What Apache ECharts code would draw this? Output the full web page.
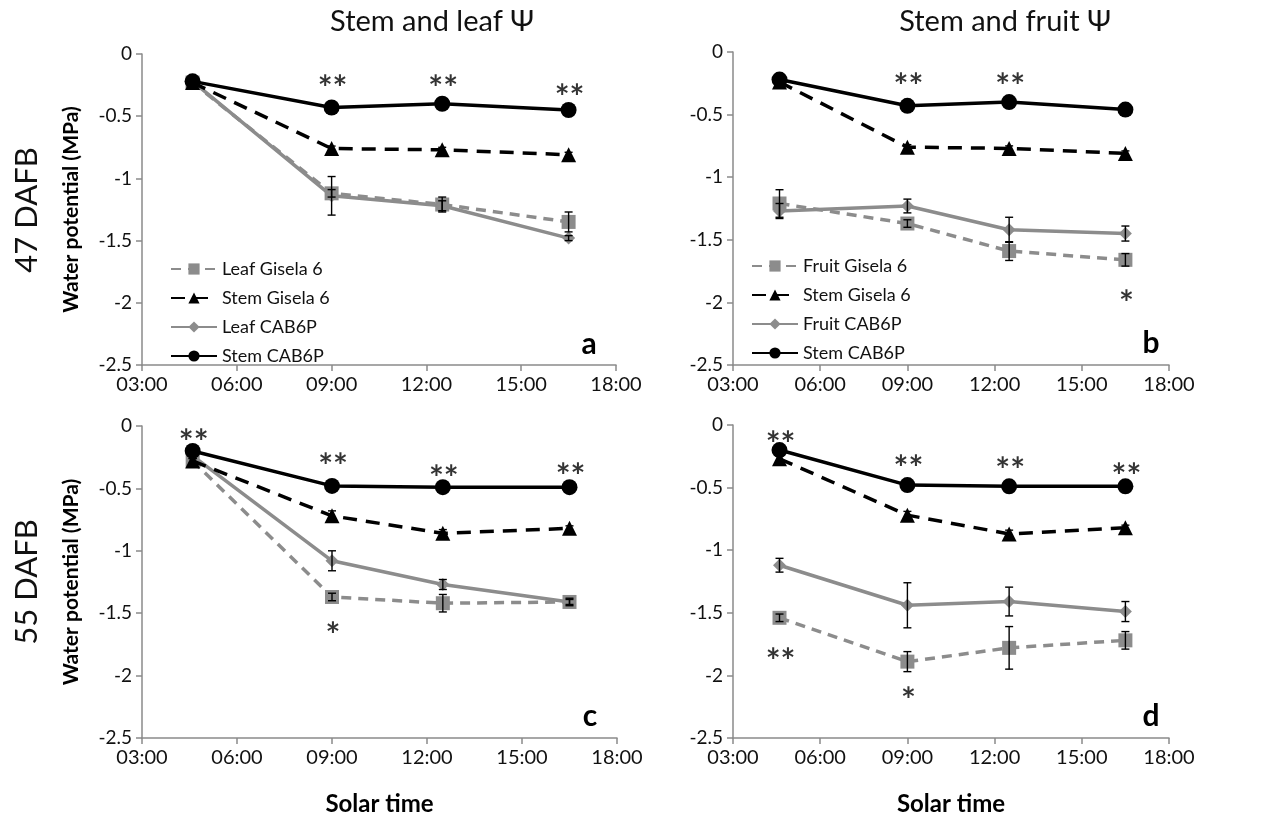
<!DOCTYPE html>
<html>
<head>
<meta charset="utf-8">
<script src="https://cdn.jsdelivr.net/npm/echarts@6/dist/echarts.min.js"></script>
<style>
html,body{margin:0;padding:0;background:#fff;}
#chart{width:1271px;height:817px;}
</style>
</head>
<body>
<div id="chart"></div>
<script>
// ---- data ----
const times = [4.6, 9, 12.5, 16.5];          // solar time (h)
const xTickHours = [3, 6, 9, 12, 15, 18];

// panel a: 47 DAFB, stem & leaf
const aLeafGis = [-0.23, -1.12, -1.21, -1.35];
const aLeafGisErr = [0.02, 0.03, 0.06, 0.08];
const aStemGis = [-0.23, -0.76, -0.77, -0.81];
const aStemGisErr = [0.01, 0.02, 0.02, 0.02];
const aLeafCAB = [-0.22, -1.14, -1.22, -1.48];
const aLeafCABErr = [0.02, 0.155, 0.04, 0.02];
const aStemCAB = [-0.22, -0.43, -0.40, -0.45];
const aStemCABErr = [0.01, 0.01, 0.01, 0.01];

// panel b: 47 DAFB, stem & fruit
const bFruitGis = [-1.21, -1.37, -1.59, -1.66];
const bFruitGisErr = [0.11, 0.03, 0.075, 0.05];
const bStemGis = [-0.24, -0.76, -0.77, -0.81];
const bStemGisErr = [0.01, 0.02, 0.02, 0.02];
const bFruitCAB = [-1.27, -1.23, -1.42, -1.45];
const bFruitCABErr = [0.06, 0.055, 0.1, 0.06];
const bStemCAB = [-0.22, -0.43, -0.40, -0.46];
const bStemCABErr = [0.01, 0.01, 0.01, 0.01];

// panel c: 55 DAFB, stem & leaf
const cLeafGis = [-0.28, -1.37, -1.42, -1.41];
const cLeafGisErr = [0.02, 0.03, 0.07, 0.03];
const cStemGis = [-0.28, -0.72, -0.86, -0.82];
const cStemGisErr = [0.02, 0.04, 0.03, 0.02];
const cLeafCAB = [-0.24, -1.08, -1.27, -1.41];
const cLeafCABErr = [0.02, 0.08, 0.04, 0.02];
const cStemCAB = [-0.20, -0.48, -0.49, -0.49];
const cStemCABErr = [0.01, 0.01, 0.01, 0.01];

// panel d: 55 DAFB, stem & fruit
const dFruitGis = [-1.54, -1.89, -1.78, -1.72];
const dFruitGisErr = [0.03, 0.08, 0.17, 0.07];
const dStemGis = [-0.27, -0.72, -0.87, -0.82];
const dStemGisErr = [0.02, 0.03, 0.03, 0.02];
const dFruitCAB = [-1.12, -1.44, -1.41, -1.49];
const dFruitCABErr = [0.055, 0.18, 0.115, 0.08];
const dStemCAB = [-0.20, -0.48, -0.49, -0.49];
const dStemCABErr = [0.01, 0.01, 0.01, 0.01];

// significance marks [time, y, text]
const aSig = [[9, -0.2, '**'], [12.5, -0.2, '**'], [16.5, -0.27, '**']];
const bSig = [[9, -0.2, '**'], [12.5, -0.2, '**'], [16.5, -1.93, '*']];
const cSig = [[4.6, -0.05, '**'], [9, -0.25, '**'], [12.5, -0.34, '**'], [16.5, -0.33, '**'], [9, -1.6, '*']];
const dSig = [[4.6, -0.08, '**'], [9, -0.27, '**'], [12.5, -0.285, '**'], [16.5, -0.33, '**'], [4.6, -1.81, '**'], [9, -2.12, '*']];

const leafNames = ['Leaf Gisela 6', 'Stem Gisela 6', 'Leaf CAB6P', 'Stem CAB6P'];
const fruitNames = ['Fruit Gisela 6', 'Stem Gisela 6', 'Fruit CAB6P', 'Stem CAB6P'];

const titles = ['Stem and leaf \u03A8', 'Stem and fruit \u03A8'];
const rowLabels = ['47 DAFB', '55 DAFB'];
const panelLetters = ['a', 'b', 'c', 'd'];

// ---- styling ----
const FONT = 'Lato';
const GRAY = '#8c8c8c';
const AX = '#8a8a8a';

const grids = [
  {left: 142, top: 54, width: 474, height: 311},
  {left: 733, top: 52, width: 436, height: 313},
  {left: 142, top: 426, width: 475, height: 312},
  {left: 733, top: 425, width: 436, height: 314}
];

function pad(h){ return (h < 10 ? '0' : '') + h + ':00'; }

const xAxes = grids.map((g, i) => ({
  gridIndex: i, type: 'value', min: 3, max: 18, interval: 3,
  axisLine: {onZero: false, lineStyle: {color: AX, width: 1.5}},
  axisTick: {show: true, inside: false, length: 6, lineStyle: {color: AX, width: 1.5}},
  splitLine: {show: false},
  axisLabel: {formatter: v => pad(v), fontFamily: FONT, fontSize: 20, color: '#111', margin: 10},
  name: i >= 2 ? 'Solar time' : '', nameLocation: 'middle', nameGap: 54,
  nameTextStyle: {fontFamily: FONT, fontWeight: 'bold', fontSize: 24, color: '#000'}
}));
const yAxes = grids.map((g, i) => ({
  gridIndex: i, type: 'value', min: -2.5, max: 0, interval: 0.5,
  axisLine: {show: true, lineStyle: {color: AX, width: 1.5}},
  axisTick: {show: true, inside: false, length: 6, lineStyle: {color: AX, width: 1.5}},
  splitLine: {show: false},
  axisLabel: {fontFamily: FONT, fontSize: 19, color: '#111', margin: 10},
  name: (i % 2 === 0) ? 'Water potential (MPa)' : '', nameLocation: 'middle', nameGap: 60,
  nameTextStyle: {fontFamily: FONT, fontWeight: 'bold', fontSize: 21, color: '#000'}
}));

const styles = [
  {color: GRAY, type: [10, 7], symbol: 'rect', size: 14, width: 3.5},
  {color: '#000', type: [14, 9], symbol: 'triangle', size: 15, width: 3.5},
  {color: GRAY, type: 'solid', symbol: 'diamond', size: 13, width: 3.5},
  {color: '#000', type: 'solid', symbol: 'circle', size: 16, width: 3.5}
];

const panels = [
  {names: leafNames, vals: [aLeafGis, aStemGis, aLeafCAB, aStemCAB], errs: [aLeafGisErr, aStemGisErr, aLeafCABErr, aStemCABErr], sig: aSig},
  {names: fruitNames, vals: [bFruitGis, bStemGis, bFruitCAB, bStemCAB], errs: [bFruitGisErr, bStemGisErr, bFruitCABErr, bStemCABErr], sig: bSig},
  {names: leafNames, vals: [cLeafGis, cStemGis, cLeafCAB, cStemCAB], errs: [cLeafGisErr, cStemGisErr, cLeafCABErr, cStemCABErr], sig: cSig},
  {names: fruitNames, vals: [dFruitGis, dStemGis, dFruitCAB, dStemCAB], errs: [dFruitGisErr, dStemGisErr, dFruitCABErr, dStemCABErr], sig: dSig}
];

const series = [];
panels.forEach((p, pi) => {
  const errData = [];
  p.vals.forEach((vals, si) => {
    vals.forEach((v, k) => errData.push([times[k], v - p.errs[si][k], v + p.errs[si][k]]));
  });
  series.push({
    type: 'custom', xAxisIndex: pi, yAxisIndex: pi, silent: true, z: 5,
    data: errData,
    renderItem: function(params, api){
      const x = api.value(0);
      const lo = api.coord([x, api.value(1)]);
      const hi = api.coord([x, api.value(2)]);
      const cap = 4;
      const st = {stroke: '#000', lineWidth: 1.4};
      return {type: 'group', children: [
        {type: 'line', shape: {x1: lo[0], y1: lo[1], x2: hi[0], y2: hi[1]}, style: st},
        {type: 'line', shape: {x1: lo[0]-cap, y1: lo[1], x2: lo[0]+cap, y2: lo[1]}, style: st},
        {type: 'line', shape: {x1: hi[0]-cap, y1: hi[1], x2: hi[0]+cap, y2: hi[1]}, style: st}
      ]};
    }
  });
  p.vals.forEach((vals, si) => {
    const s = styles[si];
    series.push({
      type: 'line', name: p.names[si], xAxisIndex: pi, yAxisIndex: pi,
      data: vals.map((v, k) => [times[k], v]),
      symbol: s.symbol, symbolSize: s.size, showSymbol: true,
      lineStyle: {color: s.color, width: s.width, type: s.type},
      itemStyle: {color: s.color, borderWidth: 0},
      z: si % 2 === 1 ? 4 : 3, animation: false, silent: true
    });
  });
  series.push({
    type: 'scatter', xAxisIndex: pi, yAxisIndex: pi, symbolSize: 1, silent: true,
    itemStyle: {color: 'rgba(0,0,0,0)'},
    data: p.sig.map(d => ({value: [d[0], d[1]], label: {formatter: d[2]}})),
    label: {show: true, position: 'inside', fontFamily: FONT, fontWeight: 'bold', fontSize: 35, color: '#000', offset: [1, 10]},
    z: 10, animation: false
  });
});

const legendCommon = {
  orient: 'vertical', itemWidth: 46, itemHeight: 14, itemGap: 11,
  textStyle: {fontFamily: FONT, fontSize: 18, color: '#111'}, selectedMode: false
};

const option = {
  animation: false,
  grid: grids,
  xAxis: xAxes,
  yAxis: yAxes,
  legend: [
    Object.assign({left: 165, top: 255, data: leafNames}, legendCommon),
    Object.assign({left: 746, top: 252, data: fruitNames}, legendCommon)
  ],
  series: series,
  graphic: [
    {type: 'text', x: 432, y: 22, style: {text: titles[0], font: '29px Lato', fill: '#111', textAlign: 'center', textVerticalAlign: 'middle'}},
    {type: 'text', x: 1005, y: 22, style: {text: titles[1], font: '29px Lato', fill: '#111', textAlign: 'center', textVerticalAlign: 'middle'}},
    {type: 'text', x: 27, y: 210, rotation: Math.PI/2, style: {text: rowLabels[0], font: '31px Lato', fill: '#111', textAlign: 'center', textVerticalAlign: 'middle'}},
    {type: 'text', x: 27, y: 582, rotation: Math.PI/2, style: {text: rowLabels[1], font: '31px Lato', fill: '#111', textAlign: 'center', textVerticalAlign: 'middle'}},
    {type: 'text', x: 589, y: 344, style: {text: panelLetters[0], font: 'bold 30px Lato', fill: '#000', textAlign: 'center', textVerticalAlign: 'middle'}},
    {type: 'text', x: 1151, y: 343, style: {text: panelLetters[1], font: 'bold 30px Lato', fill: '#000', textAlign: 'center', textVerticalAlign: 'middle'}},
    {type: 'text', x: 590, y: 716, style: {text: panelLetters[2], font: 'bold 30px Lato', fill: '#000', textAlign: 'center', textVerticalAlign: 'middle'}},
    {type: 'text', x: 1151, y: 716, style: {text: panelLetters[3], font: 'bold 30px Lato', fill: '#000', textAlign: 'center', textVerticalAlign: 'middle'}}
  ]
};

const chart = echarts.init(document.getElementById('chart'), null, {renderer: 'canvas'});
chart.setOption(option);
</script>
</body>
</html>
